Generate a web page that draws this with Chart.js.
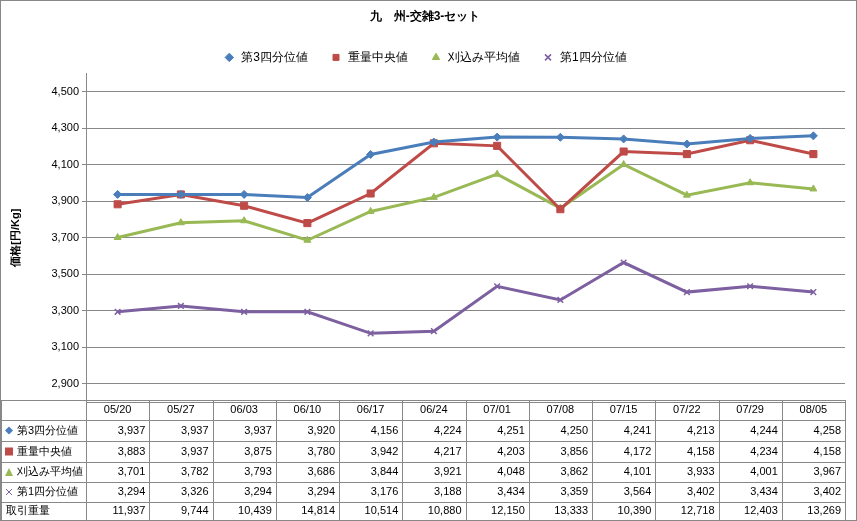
<!DOCTYPE html>
<html><head><meta charset="utf-8">
<script src="https://cdn.jsdelivr.net/npm/chart.js@4"></script>
<style>html,body{margin:0;padding:0;background:#fff}#w{width:857px;height:521px;position:relative;box-sizing:border-box;border:1px solid #888}</style>
</head><body><div id="w"><canvas id="c"></canvas></div>
<script>
const categories=["05/20","05/27","06/03","06/10","06/17","06/24","07/01","07/08","07/15","07/22","07/29","08/05"];
const q3=[3937,3937,3937,3920,4156,4224,4251,4250,4241,4213,4244,4258];
const median=[3883,3937,3875,3780,3942,4217,4203,3856,4172,4158,4234,4158];
const avg=[3701,3782,3793,3686,3844,3921,4048,3862,4101,3933,4001,3967];
const q1=[3294,3326,3294,3294,3176,3188,3434,3359,3564,3402,3434,3402];
const volume=[11937,9744,10439,14814,10514,10880,12150,13333,10390,12718,12403,13269];
const yTicks=[2900,3100,3300,3500,3700,3900,4100,4300,4500];
const names=["第3四分位値","重量中央値","刈込み平均値","第1四分位値"];
const colors=["#4a7ebb","#be4b48","#98b954","#7d60a0"];
const styles=["rectRot","rect","triangle","crossRot"];
const series=[q3,median,avg,q1];
const fmt=v=>v.toLocaleString('en-US');
const F='"Liberation Sans",Arial,sans-serif';
const tablePlugin={id:'tbl',afterDraw(ch){
 const c=ch.ctx,x=ch.scales.x,a=ch.chartArea;
 const rows=[399,419,440,461,481,501,519];
 c.save();c.strokeStyle='#888';c.lineWidth=1;
 for(const r of rows){c.beginPath();c.moveTo(0,r+.5);c.lineTo(a.right,r+.5);c.stroke();}
 const step=(a.right-a.left)/categories.length;
 for(let i=0;i<=categories.length;i++){const xx=Math.round(a.left+i*step)+.5;c.beginPath();c.moveTo(xx,399);c.lineTo(xx,519);c.stroke();}
 c.beginPath();c.moveTo(0.5,399);c.lineTo(0.5,519);c.stroke();
 c.font='11px '+F;c.fillStyle='#000';c.textBaseline='middle';
 categories.forEach((t,i)=>{c.textAlign='center';c.fillText(t,x.getPixelForValue(i),409);});
 const data=[...series,volume];
 for(let r=0;r<5;r++){
  const y=(rows[r+1]+rows[r+2])/2;
  c.textAlign='left';c.fillStyle='#000';c.fillText(r<4?names[r]:"取引重量",r<4?16:5,y);
  if(r<4){c.fillStyle=colors[r];c.strokeStyle=colors[r];const mx=8;
   if(r==0){c.beginPath();c.moveTo(mx,y-4);c.lineTo(mx+4,y);c.lineTo(mx,y+4);c.lineTo(mx-4,y);c.fill();}
   if(r==1){c.fillRect(mx-4,y-4,8,8);}
   if(r==2){c.beginPath();c.moveTo(mx,y-4);c.lineTo(mx+4,y+4);c.lineTo(mx-4,y+4);c.fill();}
   if(r==3){c.beginPath();c.moveTo(mx-3,y-3);c.lineTo(mx+3,y+3);c.moveTo(mx+3,y-3);c.lineTo(mx-3,y+3);c.stroke();}
   c.strokeStyle='#888';}
  c.fillStyle='#000';c.textAlign='right';
  data[r].forEach((v,i)=>c.fillText(fmt(v),a.left+(i+1)*step-4,y));
 }
 c.restore();
}};
new Chart(document.getElementById('c'),{type:'line',
 data:{labels:categories,datasets:series.map((d,i)=>({label:names[i],data:d,borderColor:colors[i],backgroundColor:colors[i],pointStyle:styles[i],pointRadius:i==1?5:4,pointBorderWidth:i==3?1.5:1,borderWidth:3,tension:0}))},
 options:{responsive:true,maintainAspectRatio:false,animation:false,
  layout:{padding:{left:4,right:11,top:0,bottom:110}},
  plugins:{title:{display:true,text:"九　州-交雑3-セット",font:{family:F,size:12,weight:'bold'},color:'#000',padding:{top:8,bottom:6}},
   legend:{labels:{usePointStyle:true,boxHeight:6,font:{family:F,size:12},color:'#000',padding:22}},tooltip:{enabled:false}},
  scales:{x:{offset:true,ticks:{display:false},grid:{display:false},border:{color:'#888'}},
   y:{min:2800,max:4600,afterBuildTicks:s=>{s.ticks=yTicks.map(v=>({value:v}));},
    afterFit:s=>{s.width=81;},
    ticks:{callback:v=>fmt(v),font:{family:F,size:11},color:'#000'},
    grid:{color:'#888',drawTicks:true,tickLength:4},border:{color:'#888'},
    title:{display:true,text:"価格[円/Kg]",font:{family:F,size:11,weight:'bold'},color:'#000'}}}},
 plugins:[tablePlugin]});
</script></body></html>
